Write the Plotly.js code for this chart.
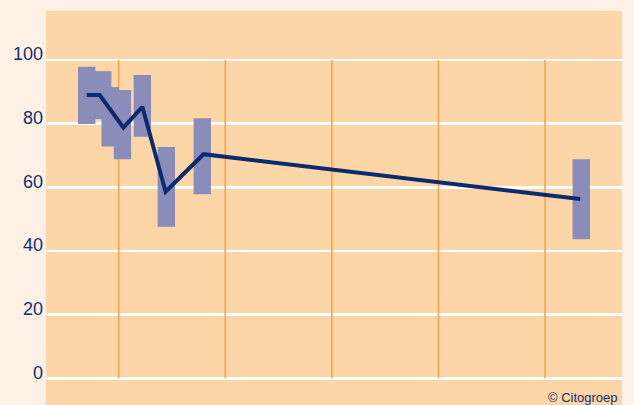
<!DOCTYPE html>
<html>
<head>
<meta charset="utf-8">
<script src="https://cdn.plot.ly/plotly-3.0.1.min.js"></script>
<style>html,body{margin:0;padding:0;background:#fdf1e6;}#chart{width:634px;height:405px;}</style>
</head>
<body>
<div id="chart"></div>
<script>
// Box (range) positions and bounds
const boxX = [0.70, 0.85, 0.92, 1.035, 1.222, 1.447, 1.784, 5.34];
const boxLow = [79.9, 81.4, 72.8, 68.8, 75.9, 47.6, 57.8, 43.7];
const boxHigh = [97.9, 96.5, 91.5, 90.6, 95.3, 72.7, 81.7, 68.8];
// Line points
const lineX = [0.70, 0.822, 1.044, 1.222, 1.44, 1.796, 5.33];
const lineY = [89.0, 89.0, 78.8, 85.3, 58.6, 70.4, 56.3];
const yTicks = [0, 20, 40, 60, 80, 100];
const xGrid = [1, 2, 3, 4, 5];

const boxTrace = {
  type: 'bar',
  x: boxX,
  base: boxLow,
  y: boxHigh.map((h, i) => h - boxLow[i]),
  width: 0.163,
  marker: {color: '#8a8cb9', line: {width: 0}},
  hoverinfo: 'skip'
};
const lineTrace = {
  type: 'scatter',
  mode: 'lines',
  x: lineX,
  y: lineY,
  line: {color: '#0c2a6e', width: 4},
  hoverinfo: 'skip'
};

const layout = {
  width: 634, height: 405,
  margin: {l: 46, r: 12, t: 11, b: 0},
  paper_bgcolor: '#fdf1e6',
  plot_bgcolor: '#fdd6a8',
  showlegend: false,
  barmode: 'overlay',
  xaxis: {
    range: [0.318, 5.722],
    showgrid: false,
    showticklabels: false, zeroline: false, showline: false, ticks: ''
  },
  yaxis: {
    range: [-8.4, 115.4],
    tickvals: yTicks,
    ticktext: yTicks.map(String),
    showgrid: true, gridcolor: '#ffffff', gridwidth: 2.5,
    zeroline: false, showline: false, ticks: '',
    ticklabelshift: -6,
    ticklabelstandoff: 2,
    tickfont: {family: 'Liberation Sans, Arial, sans-serif', size: 18, color: '#142f6c'}
  },
  shapes: xGrid.map(v => ({
    type: 'line', xref: 'x', yref: 'y',
    x0: v, x1: v, y0: yTicks[0], y1: yTicks[yTicks.length - 1],
    line: {color: '#f7a748', width: 1.6},
    layer: 'between'
  })),
  annotations: [{
    text: '© Citogroep',
    xref: 'paper', yref: 'paper',
    x: 1.0, y: 0, xanchor: 'right', yanchor: 'bottom',
    xshift: -2, yshift: -2,
    showarrow: false,
    font: {family: 'Liberation Sans, Arial, sans-serif', size: 13, color: '#142f6c'}
  }]
};

Plotly.newPlot('chart', [boxTrace, lineTrace], layout, {displayModeBar: false, staticPlot: true});
</script>
</body>
</html>
